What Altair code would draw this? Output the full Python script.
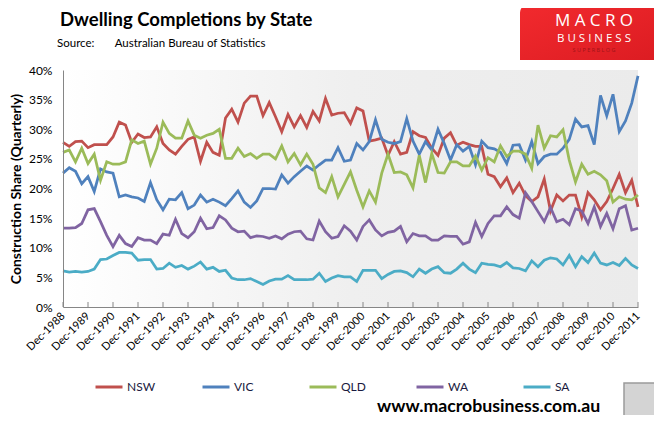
import altair as alt
import pandas as pd

TITLE = "Dwelling Completions by State"
SOURCE = "Source:" + "\u00a0" * 7 + "Australian Bureau of Statistics"
Y_TITLE = "Construction Share (Quarterly)"
WEBSITE = "www.macrobusiness.com.au"

STATES = ["NSW", "VIC", "QLD", "WA", "SA"]
COLORS = ["#C0504D", "#4F81BD", "#9BBB59", "#8064A2", "#4BACC6"]

QUARTER_MONTHS = ["Mar", "Jun", "Sep", "Dec"]
periods = ["Dec-1988"] + [f"{m}-{y}" for y in range(1989, 2012) for m in QUARTER_MONTHS]
year_ticks = [f"Dec-{y}" for y in range(1988, 2012)]
y_ticks = [0, 5, 10, 15, 20, 25, 30, 35, 40]

NSW = [27.8, 27.1, 27.9, 28.0, 26.9, 27.4, 27.4, 27.4, 28.7, 31.2,
       30.7, 27.8, 29.2, 28.6, 28.7, 30.4, 27.6, 26.5, 25.8, 27.1,
       28.3, 28.7, 24.6, 27.8, 26.1, 25.6, 31.9, 33.4, 31.2, 34.4,
       35.6, 35.6, 32.3, 34.5, 32.1, 29.6, 32.5, 30.4, 32.3, 30.3,
       33.0, 31.4, 35.2, 32.4, 32.7, 32.8, 31.0, 33.6, 33.1, 28.0,
       28.2, 28.5, 25.6, 27.9, 25.8, 26.1, 29.6, 28.9, 28.6, 26.8,
       25.6, 28.5, 29.4, 27.3, 27.8, 27.4, 27.1, 27.1, 22.4, 22.0,
       20.3, 21.8, 19.3, 20.9, 18.8, 17.8, 18.6, 21.6, 16.2, 18.9,
       17.9, 18.9, 18.9, 15.2, 19.3, 18.1, 16.4, 17.8, 20.0, 22.4,
       19.3, 21.4, 16.9]
VIC = [22.6, 23.5, 22.9, 20.8, 22.0, 19.5, 23.3, 22.8, 22.6, 18.6,
       18.9, 18.6, 18.4, 17.8, 21.0, 18.1, 16.4, 18.2, 18.1, 19.3,
       16.6, 17.2, 18.9, 17.7, 18.2, 17.7, 17.1, 18.3, 19.6, 17.7,
       16.8, 17.9, 20.0, 20.0, 19.9, 22.3, 20.9, 22.0, 22.9, 23.8,
       23.1, 24.0, 24.8, 24.8, 26.9, 24.6, 24.8, 27.6, 26.5, 27.9,
       31.6, 28.3, 27.8, 27.6, 27.9, 31.8, 28.0, 25.8, 27.9, 26.5,
       30.0, 27.6, 24.8, 27.4, 26.3, 27.1, 24.0, 28.0, 26.9, 26.7,
       26.1, 24.2, 27.3, 27.4, 24.8, 27.9, 24.2, 25.4, 25.8, 25.8,
       26.8, 28.3, 31.7, 30.4, 30.6, 27.4, 35.7, 32.3, 35.9, 29.6,
       31.4, 34.4, 39.0]
QLD = [26.1, 26.5, 24.5, 26.8, 24.2, 25.8, 21.4, 24.5, 24.1, 24.1,
       24.5, 28.2, 27.6, 28.0, 24.1, 26.8, 31.2, 29.3, 28.5, 28.5,
       31.4, 29.0, 28.5, 29.0, 29.3, 30.0, 25.1, 25.1, 26.8, 25.4,
       25.9, 25.1, 25.8, 25.8, 25.0, 27.2, 24.5, 25.9, 24.0, 25.8,
       24.1, 20.1, 19.3, 22.0, 18.6, 20.7, 22.8, 19.7, 16.9, 19.6,
       17.7, 22.6, 25.8, 22.7, 22.8, 22.3, 20.1, 25.6, 21.0, 25.9,
       22.7, 22.6, 24.5, 24.5, 23.8, 23.8, 25.5, 23.1, 25.2, 24.5,
       27.2, 25.4, 26.3, 26.3, 25.8, 23.4, 30.7, 26.8, 28.9, 28.7,
       29.9, 24.8, 21.1, 24.1, 22.4, 22.9, 22.3, 21.3, 17.7, 18.6,
       18.2, 18.1, 18.9]
WA = [13.3, 13.3, 13.4, 14.1, 16.4, 16.6, 14.4, 12.1, 10.2, 12.1,
      10.7, 10.2, 11.7, 11.3, 11.3, 10.7, 12.3, 12.1, 14.8, 12.4,
      11.7, 12.7, 15.0, 13.2, 13.4, 15.4, 14.7, 13.3, 12.7, 12.8,
      11.7, 12.0, 11.9, 11.6, 12.0, 11.5, 12.3, 12.7, 12.8, 11.5,
      11.3, 14.5, 12.7, 11.6, 11.9, 13.7, 12.8, 11.3, 13.6, 14.7,
      13.0, 12.0, 12.6, 12.8, 13.6, 11.0, 12.4, 12.0, 12.0, 11.3,
      11.3, 12.0, 11.9, 11.9, 10.6, 11.0, 14.3, 11.9, 14.1, 15.4,
      15.4, 16.9, 15.6, 15.0, 19.3, 17.8, 16.1, 14.4, 16.8, 14.4,
      14.8, 13.9, 16.6, 16.2, 14.1, 16.9, 13.6, 15.8, 13.2, 16.6,
      17.1, 13.0, 13.3]
SA = [6.1, 5.9, 6.0, 5.9, 6.0, 6.4, 8.0, 8.1, 8.7, 9.2,
      9.2, 9.1, 7.9, 8.0, 8.0, 6.4, 6.5, 7.4, 6.7, 7.0,
      6.4, 6.9, 7.6, 6.4, 6.7, 6.0, 6.2, 4.9, 4.6, 4.6,
      4.8, 4.3, 3.8, 4.4, 4.7, 4.7, 5.3, 4.6, 4.6, 4.6,
      4.7, 5.7, 4.3, 4.9, 5.3, 5.1, 5.1, 4.3, 6.2, 6.2,
      6.2, 4.8, 5.5, 6.0, 6.1, 5.8, 5.1, 6.4, 5.7, 6.4,
      6.8, 5.8, 5.7, 6.4, 7.4, 6.4, 5.8, 7.4, 7.2, 7.1,
      6.8, 7.5, 6.6, 6.5, 6.1, 7.8, 6.8, 7.9, 8.3, 8.1,
      7.1, 8.7, 6.8, 8.5, 7.5, 9.1, 7.4, 7.1, 7.5, 7.0,
      8.2, 7.1, 6.5]

rows = []
for state, vals in zip(STATES, [NSW, VIC, QLD, WA, SA]):
    for i, (p, v) in enumerate(zip(periods, vals)):
        rows.append({"period": p, "idx": i, "state": state, "share": v})
df = pd.DataFrame(rows)

W, H = 575, 237
FONT = "Lato"
AXIS_GRAY = "#868686"

x_enc = alt.X(
    "period:O",
    scale=alt.Scale(type="point", padding=0, domain=periods),
    axis=alt.Axis(
        values=year_ticks, labelAngle=315, labelAlign="right", labelBaseline="middle",
        labelPadding=7, ticks=False, domainColor=AXIS_GRAY, labelFontSize=11,
        labelFont=FONT, labelColor="#000000", title=None, grid=False, zindex=1,
        labelOverlap=False,
    ),
)
y_enc = alt.Y(
    "share:Q",
    scale=alt.Scale(domain=[0, 40], nice=False),
    axis=alt.Axis(
        values=y_ticks, labelExpr="datum.value + '%'", ticks=False, grid=False,
        domainColor=AXIS_GRAY, labelFontSize=12, labelPadding=11, labelFont=FONT,
        labelColor="#000000", title=Y_TITLE, titleFont=FONT, titleFontSize=14,
        titleFontWeight="bold", titleColor="#000000", titlePadding=5, zindex=1,
    ),
)

one = pd.DataFrame({"k": [0]})

bg = alt.Chart(one).mark_rect(
    color=alt.Gradient(
        gradient="linear",
        stops=[alt.GradientStop(color="#ffffff", offset=0),
               alt.GradientStop(color="#efefef", offset=0.5),
               alt.GradientStop(color="#ebebeb", offset=1)],
        x1=0, x2=1, y1=0, y2=0,
    )
).encode(x=alt.value(0), x2=alt.value(W), y=alt.value(0), y2=alt.value(H))

tick_df = pd.DataFrame({"period": year_ticks})
ticks = alt.Chart(tick_df).mark_rule(color=AXIS_GRAY, strokeWidth=1).encode(
    x=x_enc, y=alt.value(H - 5), y2=alt.value(H)
)

lines = alt.Chart(df).mark_line(strokeWidth=2.75).encode(
    x=x_enc,
    y=y_enc,
    order=alt.Order("idx:Q"),
    color=alt.Color(
        "state:N",
        scale=alt.Scale(domain=STATES, range=COLORS),
        legend=alt.Legend(
            title=None, orient="none", legendX=31, legendY=302, direction="horizontal",
            symbolType="stroke", symbolStrokeWidth=3, symbolSize=729,
            labelFontSize=12, labelFont=FONT, labelColor="#1a1a40", labelOffset=3,
            columnPadding=40, gridAlign="all",
        ),
    ),
)

def text_layer(txt, x, y, size, weight="normal", color="#000000", align="left", font=FONT):
    return alt.Chart(pd.DataFrame({"t": [txt]})).mark_text(
        align=align, baseline="alphabetic", font=font, fontSize=size,
        fontWeight=weight, color=color,
    ).encode(x=alt.value(x), y=alt.value(y), text="t:N")

title = text_layer(TITLE, -3, -44, 18.5, "bold")
source = text_layer(SOURCE, -6, -23, 11.5)

logo_box = alt.Chart(one).mark_rect(
    cornerRadiusTopLeft=9,
    color=alt.Gradient(
        gradient="linear",
        stops=[alt.GradientStop(color="#f22a2e", offset=0),
               alt.GradientStop(color="#dc1c22", offset=1)],
        x1=0, x2=1, y1=0, y2=1,
    ),
).encode(x=alt.value(457), x2=alt.value(594), y=alt.value(-66), y2=alt.value(-10))
logo1 = text_layer("M A C R O", 531, -44, 17, "normal", "#ffffff", "center", "Open Sans")
logo2 = text_layer("B U S I N E S S", 531, -28, 11.5, "normal", "#ffffff", "center", "Open Sans")
logo3 = text_layer("S  U  P  E  R  B  L  O  G", 531, -18, 5.5, "normal", "#a01418", "center", "Open Sans")

website = text_layer(WEBSITE, 314, 342, 17.7, "bold")
fox = alt.Chart(one).mark_rect(fill="#d4d4d4", stroke="#9a9a9a", strokeWidth=1.5).encode(
    x=alt.value(561), x2=alt.value(593), y=alt.value(313), y2=alt.value(350)
)

chart = alt.layer(
    bg, ticks, lines, title, source, logo_box, logo1, logo2, logo3, website, fox
).properties(
    width=W, height=H,
    autosize=alt.AutoSizeParams(type="none"),
    padding={"left": 55, "top": 62, "right": 16, "bottom": 108},
    background="#ffffff",
).configure_view(stroke=None)

chart.save("out.html", embed_options={"renderer": "svg", "actions": False})
